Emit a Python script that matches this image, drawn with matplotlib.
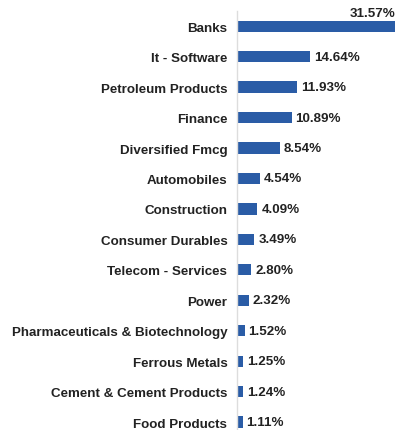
import matplotlib.pyplot as plt

plt.rcParams['font.family'] = ['Liberation Sans', 'DejaVu Sans']

sectors = ['Banks', 'It - Software', 'Petroleum Products', 'Finance',
           'Diversified Fmcg', 'Automobiles', 'Construction',
           'Consumer Durables', 'Telecom - Services', 'Power',
           'Pharmaceuticals & Biotechnology', 'Ferrous Metals',
           'Cement & Cement Products', 'Food Products']
weights = [31.57, 14.64, 11.93, 10.89, 8.54, 4.54, 4.09,
           3.49, 2.80, 2.32, 1.52, 1.25, 1.24, 1.11]

bar_color = '#2a5ca6'
text_color = '#222222'

fig = plt.figure(figsize=(3.97, 4.31), dpi=100)
ax = fig.add_axes([237 / 397, 0, 158 / 397, 419 / 431])

pos = list(range(len(sectors)))
ax.barh(pos, weights, height=0.37, color=bar_color)
ax.set_xlim(0, max(weights))
ax.set_ylim(13.26, -0.5)

ax.set_yticks(pos)
ax.set_yticklabels(sectors, fontsize=9.6, fontweight='bold', color=text_color)
ax.tick_params(axis='y', length=0, pad=7)
ax.set_xticks([])

for s in ['top', 'right', 'bottom']:
    ax.spines[s].set_visible(False)
ax.spines['left'].set_color('#dddddd')
ax.spines['left'].set_linewidth(1)

for i, w in enumerate(weights):
    label = f'{w:.2f}%'
    if w == max(weights):
        # widest bar: put its label above the end
        ax.text(w, i - 0.25, label, ha='right', va='bottom', fontsize=9.6,
                fontweight='bold', color=text_color, clip_on=False)
    else:
        ax.text(w + 0.8, i, label, ha='left', va='center', fontsize=9.6,
                fontweight='bold', color=text_color)

fig.savefig('out.png', dpi=100)
